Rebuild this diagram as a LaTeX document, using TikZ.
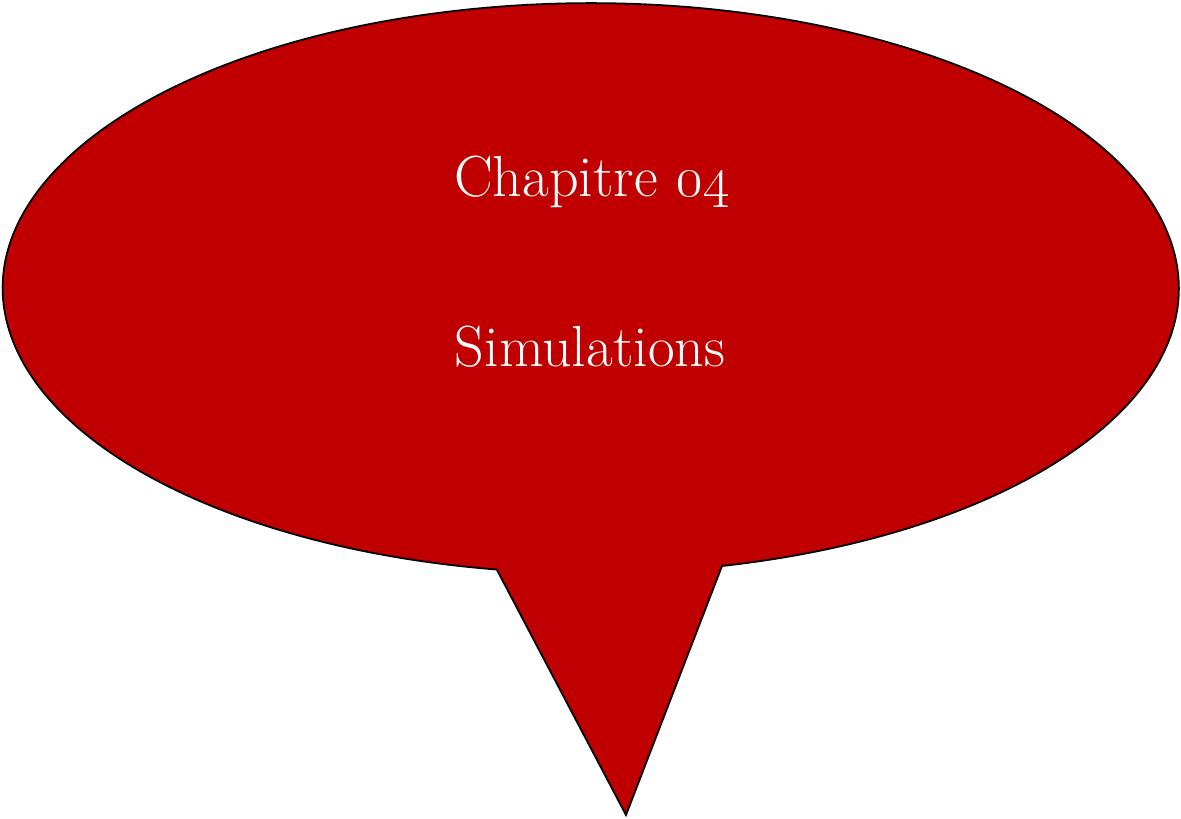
\RequirePackage{fix-cm}
\documentclass[tikz,border=0pt]{standalone}
\definecolor{bubblered}{RGB}{192,0,0}
\tikzset{
  bubble/.style={fill=bubblered, draw=black, line width=1.8pt, line join=miter},
  bubbletext/.style={text=white, anchor=base, inner sep=0pt, font=\fontsize{58}{70}\selectfont}
}
\begin{document}
\begin{tikzpicture}[x=1pt,y=1pt]
\useasboundingbox (0,0) rectangle (1181,819);
\coordinate (jr) at (722,253);
\coordinate (tip) at (626,4);
\coordinate (jl) at (497,249);
\path[bubble] (jr) arc[start angle=-77.1, end angle=260.8, x radius=588pt, y radius=285pt] -- (tip) -- cycle;
\node[bubbletext] (title) at (592,622) {Chapitre \oldstylenums{04}};
\node[bubbletext] (sub) at (590,452) {Simulations};
\end{tikzpicture}
\end{document}
